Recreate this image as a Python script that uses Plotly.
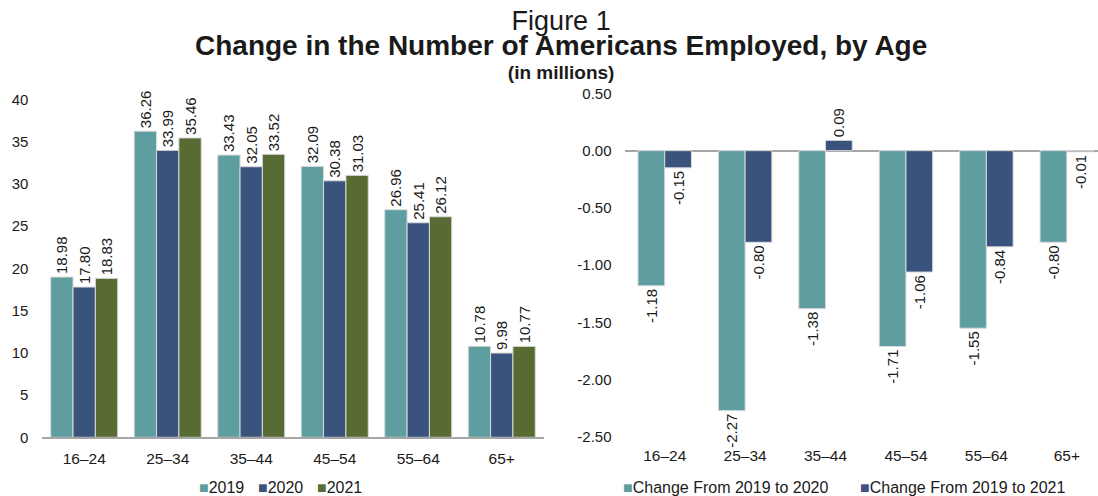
import plotly.graph_objects as go

# ---------------- data ----------------
age_groups = ["16–24", "25–34", "35–44", "45–54", "55–64", "65+"]

employed_2019 = [18.98, 36.26, 33.43, 32.09, 26.96, 10.78]
employed_2020 = [17.80, 33.99, 32.05, 30.38, 25.41, 9.98]
employed_2021 = [18.83, 35.46, 33.52, 31.03, 26.12, 10.77]

change_2019_2020 = [-1.18, -2.27, -1.38, -1.71, -1.55, -0.80]
change_2019_2021 = [-0.15, -0.80, 0.09, -1.06, -0.84, -0.01]

left_ticks = [0, 5, 10, 15, 20, 25, 30, 35, 40]
right_ticks = [0.50, 0.00, -0.50, -1.00, -1.50, -2.00, -2.50]
right_tick_text = ["0.50", "0.00", "-0.50", "-1.00", "-1.50", "-2.00", "-2.50"]

left_names = ["2019", "2020", "2021"]
right_names = ["Change From 2019 to 2020", "Change From 2019 to 2021"]

title_lines = ["Figure 1", "Change in the Number of Americans Employed, by Age", "(in millions)"]

# ---------------- style ----------------
W, H = 1098, 496
FONT = "Liberation Sans, Arial, sans-serif"
TXT = "#1a1a1a"
TEAL = "#5F9EA0"
NAVY = "#3A537D"
GREEN = "#576B33"
AXIS = "#A6A6A6"


def fmt(vals):
    return [f"{v:.2f}" for v in vals]


fig = go.Figure()

left_bw = 0.2675
left_series = list(zip(left_names, [employed_2019, employed_2020, employed_2021], [TEAL, NAVY, GREEN]))
for i, (name, vals, col) in enumerate(left_series):
    fig.add_trace(go.Bar(
        x=age_groups, y=vals, name=name, showlegend=False,
        marker=dict(color=col, line=dict(color="#DADADA", width=1)),
        width=left_bw, offset=-1.5 * left_bw + i * left_bw,
        text=fmt(vals), textposition="outside", textangle=-90,
        textfont=dict(family=FONT, size=15, color=TXT),
        constraintext="none", cliponaxis=False,
        xaxis="x", yaxis="y",
    ))

right_bw = 0.3325
right_series = list(zip(right_names, [change_2019_2020, change_2019_2021], [TEAL, NAVY]))
for i, (name, vals, col) in enumerate(right_series):
    fig.add_trace(go.Bar(
        x=age_groups, y=vals, name=name, showlegend=False,
        marker=dict(color=col, line=dict(color="#DADADA", width=1)),
        width=right_bw, offset=-right_bw + i * right_bw,
        text=fmt(vals), textposition="outside", textangle=-90,
        textfont=dict(family=FONT, size=15, color=TXT),
        constraintext="none", cliponaxis=False,
        xaxis="x2", yaxis="y2",
    ))

tickfont = dict(family=FONT, size=15.5, color=TXT)
legfont = dict(family=FONT, size=16, color=TXT)

title_text = (
    f'<span style="font-size:27px">{title_lines[0]}</span><br>'
    f'<b><span style="font-size:28px">{title_lines[1]}</span></b><br>'
    f'<b>{title_lines[2]}</b>'
)
annotations = [
    dict(text=title_text, x=561 / W, y=1 - 4 / H, xref="paper", yref="paper",
         xanchor="center", yanchor="top", align="center", showarrow=False,
         font=dict(family=FONT, size=19, color=TXT)),
]

# legend entries (colored square glyph + series name)
legend_left_x = [197, 256, 315]
legend_right_x = [620.5, 857.5]
for (name, _, col), lx in zip(left_series, legend_left_x):
    annotations.append(dict(
        text=f'<span style="color:{col}">■</span>{name}', x=lx / W, y=1 - 487 / H,
        xref="paper", yref="paper", xanchor="left", yanchor="middle", showarrow=False,
        font=legfont))
for (name, _, col), lx in zip(right_series, legend_right_x):
    annotations.append(dict(
        text=f'<span style="color:{col}">■</span>{name}', x=lx / W, y=1 - 487 / H,
        xref="paper", yref="paper", xanchor="left", yanchor="middle", showarrow=False,
        font=legfont))

fig.update_layout(
    width=W, height=H,
    margin=dict(l=0, r=0, t=0, b=0, autoexpand=False),
    paper_bgcolor="white", plot_bgcolor="white",
    font=dict(family=FONT, color=TXT),
    barmode="group", showlegend=False,
    xaxis=dict(domain=[42.45 / W, 543.5 / W], range=[-0.5, 5.5], type="category",
               showline=True, linecolor=AXIS, linewidth=1.5, showgrid=False,
               ticks="", tickfont=tickfont, ticklabelstandoff=6, anchor="y",
               automargin=False),
    yaxis=dict(domain=[1 - 437.3 / H, 1 - 99.6 / H], range=[0, 40],
               tickvals=left_ticks, showgrid=False, zeroline=False, showline=False,
               ticks="", tickfont=dict(family=FONT, size=15, color=TXT),
               ticklabelstandoff=13, anchor="x", automargin=False),
    xaxis2=dict(domain=[624.5 / W, 1.0], range=[-0.5, 5.5 - 9 / 80.46], type="category",
                showline=False, showgrid=False, ticks="", tickfont=tickfont,
                ticklabelstandoff=7, anchor="y2", automargin=False),
    yaxis2=dict(domain=[1 - 437.0 / H, 1 - 93.4 / H], range=[-2.5, 0.5],
                tickvals=right_ticks, ticktext=right_tick_text,
                showgrid=False, zeroline=True, zerolinecolor=AXIS, zerolinewidth=1.5,
                showline=False, ticks="", tickfont=dict(family=FONT, size=15, color=TXT),
                ticklabelstandoff=12, anchor="x2", automargin=False),
    annotations=annotations,
)

fig.write_html("out.html")
